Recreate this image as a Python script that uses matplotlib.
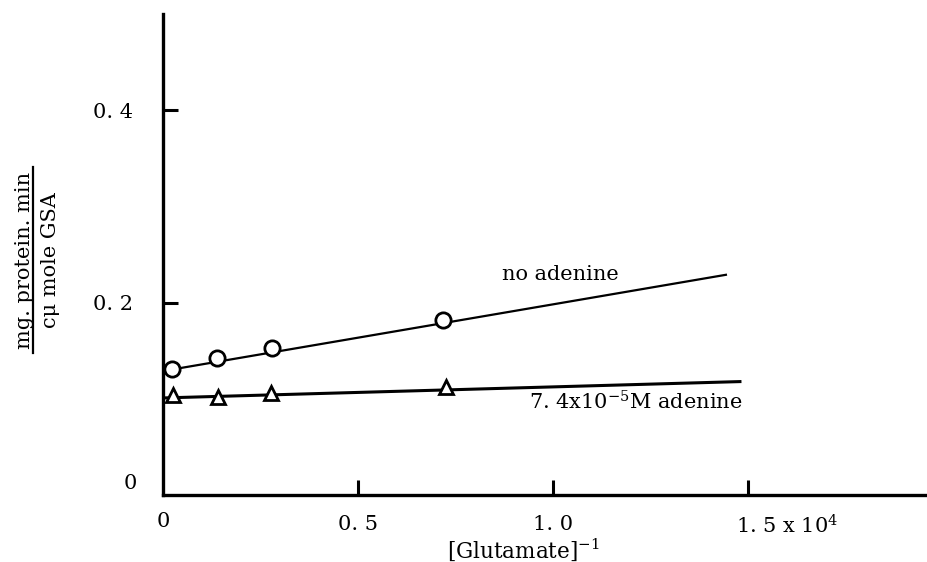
import matplotlib
matplotlib.use("Agg")
import matplotlib.pyplot as plt
from matplotlib.lines import Line2D
from matplotlib.transforms import ScaledTranslation

# ── data ─────────────────────────────────────────────────────────────────
inv_glu_no = [0.022, 0.138, 0.280, 0.717]
rate_no = [0.131, 0.143, 0.153, 0.182]

inv_glu_ade = [0.026, 0.142, 0.277, 0.727]
rate_ade = [0.1036, 0.102, 0.106, 0.112]

# hand-drawn fit lines (end points)
fit_x_no = [0.0, 1.444]
fit_y_no = [0.129, 0.229]
fit_x_ade = [0.0, 1.48]
fit_y_ade = [0.101, 0.118]

xticks = [0.5, 1.0, 1.5]
xticklabels = ["0. 5", "1. 0", r"1. 5 x 10$^4$"]
yticks = [0.2, 0.4]
yticklabels = ["0. 2", "0. 4"]

plt.rcParams["font.family"] = ["DejaVu Serif"]
plt.rcParams["mathtext.fontset"] = "dejavuserif"

FS = 15

fig = plt.figure(figsize=(9.27, 5.62), dpi=100)
ax = fig.add_axes([0.176, 0.119, 0.824, 0.856])

ax.plot(fit_x_no, fit_y_no, color="black", lw=1.6, zorder=2)
ax.plot(fit_x_ade, fit_y_ade, color="black", lw=2.2, zorder=2)
ax.plot(inv_glu_no, rate_no, "o", ms=11, mfc="white", mec="black", mew=2.0,
        ls="none", zorder=3, clip_on=False)
ax.plot(inv_glu_ade, rate_ade, "^", ms=10, mfc="white", mec="black", mew=2.0,
        ls="none", zorder=3, clip_on=False)

ax.set_xlim(0, 1.96)
ax.set_ylim(0, 0.5)

for s in ["top", "right"]:
    ax.spines[s].set_visible(False)
for s in ["left", "bottom"]:
    ax.spines[s].set_linewidth(2.4)

ax.set_xticks(xticks)
ax.set_xticklabels(xticklabels)
ax.set_yticks(yticks)
ax.set_yticklabels(yticklabels)
ax.tick_params(axis="both", direction="in", length=11, width=2.2, labelsize=FS)
ax.tick_params(axis="y", pad=22)
ax.tick_params(axis="x", pad=14)

# last x tick label starts near its tick, as in the original
last = ax.get_xticklabels()[-1]
last.set_horizontalalignment("left")
last.set_transform(last.get_transform() +
                   ScaledTranslation(-12 / 100, 0, fig.dpi_scale_trans))

# zero labels sit apart from the ticks
ax.text(-0.085, 0.012, "0", fontsize=FS, ha="center", va="center")
ax.text(0.0, -0.027, "0", fontsize=FS, ha="center", va="center", clip_on=False)

ax.text(1.02, 0.229, "no adenine", fontsize=FS, ha="center", va="center")
ax.text(0.94, 0.097, r"7. 4x10$^{-5}$M adenine", fontsize=FS, ha="left",
        va="center")

ax.text(0.925, -0.057, r"[Glutamate]$^{-1}$", fontsize=FS + 0.5, ha="center",
        va="center", clip_on=False)

# y label as a fraction
fig.text(0.026, 0.537, "mg. protein. min", rotation=90, fontsize=FS,
         ha="center", va="center")
fig.add_artist(Line2D([0.036, 0.036], [0.372, 0.702], color="black", lw=1.6,
                      transform=fig.transFigure))
fig.text(0.054, 0.537, "c\u03bc mole GSA", rotation=90, fontsize=FS,
         ha="center", va="center")

fig.savefig("out.png", dpi=100)
